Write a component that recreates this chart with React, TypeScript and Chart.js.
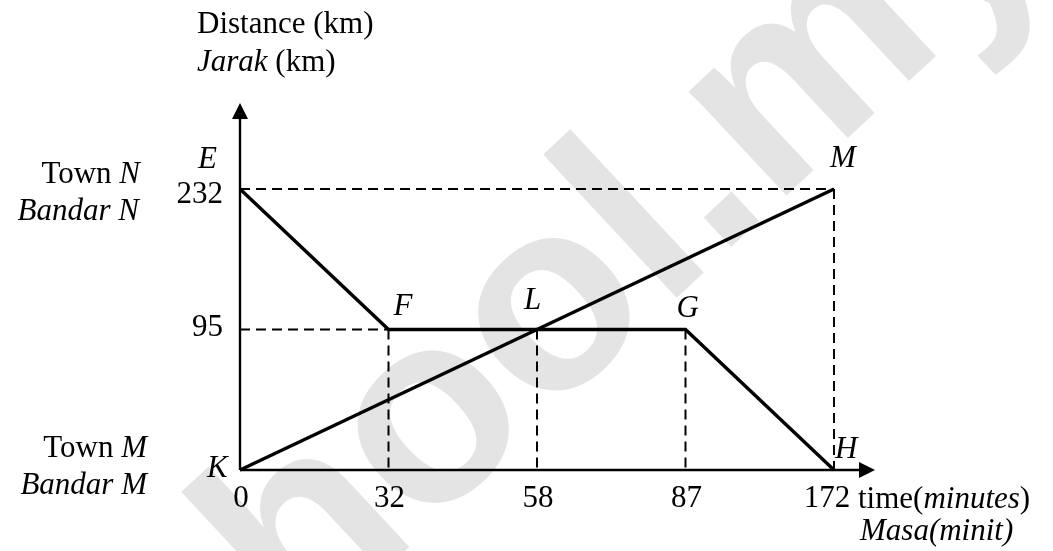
import React, { useEffect, useRef } from 'react';
import { Chart, registerables } from 'chart.js';

Chart.register(...registerables);

// ---- data ----
const timeLabels = ['0', '32', '58', '87', '172']; // minutes
const distanceLabels = ['0', '95', '232']; // km

// Vehicle leaving Town N: E -> F -> G -> H
const journeyNTime = [0, 32, 87, 172];
const journeyNDist = [232, 95, 95, 0];
// Vehicle leaving Town M: K -> M
const journeyMTime = [0, 172];
const journeyMDist = [0, 232];

// dashed guide lines
const hGuideDist = [232, 95];
const hGuideEndTime = [172, 32];
const vGuideTime = [32, 58, 87, 172];
const vGuideTopDist = [95, 95, 95, 232];

// named points
const pointNames = ['E', 'F', 'L', 'G', 'M', 'H', 'K'];
const pointTimes = [0, 32, 58, 87, 172, 172, 0];
const pointDists = [232, 95, 95, 95, 232, 0, 0];

const yTickLabels = ['232', '95'];
const xTickLabels = timeLabels;

// ---- styling ----
const SERIF = '"Liberation Serif", "Times New Roman", serif';
const FS = 31;
const labelOffset: Record<string, [number, number]> = {
  E: [-42, -21],
  F: [5, -15],
  L: [-13, -21],
  G: [-9, -13],
  M: [-4, -22],
  H: [1, -12],
  K: [-33, 7],
};
const yTickBaseline: Record<string, number> = { '232': 14, '95': 6 };

type Seg = [string, boolean];

function rich(ctx: CanvasRenderingContext2D, segs: Seg[], x: number, y: number, align: 'left' | 'right' | 'center') {
  const fonts = segs.map(([, it]) => `${it ? 'italic ' : ''}${FS}px ${SERIF}`);
  const widths = segs.map(([t], i) => {
    ctx.font = fonts[i];
    return ctx.measureText(t).width;
  });
  const total = widths.reduce((a, b) => a + b, 0);
  let cx = align === 'left' ? x : align === 'right' ? x - total : x - total / 2;
  ctx.textAlign = 'left';
  ctx.textBaseline = 'alphabetic';
  segs.forEach(([t], i) => {
    ctx.font = fonts[i];
    ctx.fillText(t, cx, y);
    cx += widths[i];
  });
}

const pair = (t: number[], d: number[]) => t.map((v, i) => ({ x: String(v), y: String(d[i]) }));

const watermarkPlugin = {
  id: 'watermark',
  beforeDraw(chart: any) {
    const ctx = chart.ctx as CanvasRenderingContext2D;
    ctx.save();
    ctx.fillStyle = 'white';
    ctx.fillRect(0, 0, chart.width, chart.height);
    ctx.translate(301, 648);
    ctx.rotate((-43 * Math.PI) / 180);
    ctx.font = 'bold 270px "Liberation Sans", Arial, sans-serif';
    ctx.fillStyle = 'rgb(228,228,228)';
    ctx.textAlign = 'left';
    ctx.textBaseline = 'alphabetic';
    ctx.fillText('hool.my', 0, 0);
    ctx.restore();
  },
};

const axesPlugin = {
  id: 'axesArrows',
  beforeDatasetsDraw(chart: any) {
    const ctx = chart.ctx as CanvasRenderingContext2D;
    const xs = chart.scales.x;
    const ys = chart.scales.y;
    const ox = xs.getPixelForValue('0');
    const oy = ys.getPixelForValue('0');
    const xEnd = xs.getPixelForValue('172');
    const yEnd = ys.getPixelForValue('232');
    const yTip = yEnd - 86;
    const xTip = xEnd + 41;
    ctx.save();
    ctx.strokeStyle = '#000';
    ctx.fillStyle = '#000';
    ctx.lineWidth = 2.4;
    ctx.beginPath();
    ctx.moveTo(ox, oy);
    ctx.lineTo(ox, yTip + 10);
    ctx.moveTo(ox, oy);
    ctx.lineTo(xTip - 10, oy);
    ctx.stroke();
    // arrow heads
    ctx.beginPath();
    ctx.moveTo(ox, yTip);
    ctx.lineTo(ox - 8, yTip + 16);
    ctx.lineTo(ox + 8, yTip + 16);
    ctx.closePath();
    ctx.fill();
    ctx.beginPath();
    ctx.moveTo(xTip, oy);
    ctx.lineTo(xTip - 16, oy - 8);
    ctx.lineTo(xTip - 16, oy + 8);
    ctx.closePath();
    ctx.fill();
    ctx.restore();
  },
  afterDraw(chart: any) {
    const ctx = chart.ctx as CanvasRenderingContext2D;
    const xs = chart.scales.x;
    const ys = chart.scales.y;
    const ox = xs.getPixelForValue('0');
    const oy = ys.getPixelForValue('0');
    const yTop = ys.getPixelForValue('232');
    ctx.save();
    ctx.fillStyle = '#000';
    // axis titles
    rich(ctx, [['Distance (km)', false]], ox - 43, 33, 'left');
    rich(ctx, [['Jarak', true], [' (km)', false]], ox - 43, 71, 'left');
    rich(ctx, [['Town ', false], ['N', true]], ox - 100, yTop - 6, 'right');
    rich(ctx, [['Bandar N', true]], ox - 101, yTop + 31, 'right');
    rich(ctx, [['Town ', false], ['M', true]], ox - 93, oy - 13, 'right');
    rich(ctx, [['Bandar M', true]], ox - 93, oy + 24, 'right');
    // y tick labels
    yTickLabels.forEach((lab) => {
      const y = ys.getPixelForValue(lab);
      rich(ctx, [[lab, false]], ox - 17, y + yTickBaseline[lab], 'right');
    });
    // x tick labels
    xTickLabels.forEach((lab, i) => {
      const x = xs.getPixelForValue(lab);
      const shift = i === xTickLabels.length - 1 ? -7 : 1;
      rich(ctx, [[lab, false]], x + shift, oy + 37, 'center');
    });
    const xEnd = xs.getPixelForValue('172');
    rich(ctx, [['time(', false], ['minutes', true], [')', false]], xEnd + 24, oy + 38, 'left');
    rich(ctx, [['Masa(minit)', true]], xEnd + 26, oy + 70, 'left');
    // point names
    pointNames.forEach((n, i) => {
      const x = xs.getPixelForValue(String(pointTimes[i]));
      const y = ys.getPixelForValue(String(pointDists[i]));
      const [dx, dy] = labelOffset[n];
      rich(ctx, [[n, true]], x + dx, y + dy, 'left');
    });
    ctx.restore();
  },
};

const solid = (data: any[]) => ({
  data,
  borderColor: '#000',
  borderWidth: 3.4,
  pointRadius: 0,
  tension: 0,
  fill: false,
  clip: false as const,
});
const dashed = (data: any[]) => ({
  data,
  borderColor: '#000',
  borderWidth: 2,
  borderDash: [10, 6],
  pointRadius: 0,
  tension: 0,
  fill: false,
  clip: false as const,
});

export default function App() {
  const ref = useRef<HTMLCanvasElement | null>(null);
  useEffect(() => {
    if (!ref.current) return;
    const datasets: any[] = [
      solid(pair(journeyNTime, journeyNDist)),
      solid(pair(journeyMTime, journeyMDist)),
    ];
    hGuideDist.forEach((d, i) => {
      datasets.push(dashed([{ x: '0', y: String(d) }, { x: String(hGuideEndTime[i]), y: String(d) }]));
    });
    vGuideTime.forEach((t, i) => {
      datasets.push(dashed([{ x: String(t), y: String(vGuideTopDist[i]) }, { x: String(t), y: '0' }]));
    });
    const chart = new Chart(ref.current, {
      type: 'line',
      data: { labels: timeLabels, datasets },
      options: {
        animation: false,
        responsive: false,
        events: [],
        layout: { padding: { left: 240, right: 219, top: 189, bottom: 81 } },
        plugins: { legend: { display: false }, tooltip: { enabled: false } },
        scales: {
          x: { type: 'category', display: false, offset: false },
          y: { type: 'category', labels: distanceLabels, reverse: true, display: false, offset: false },
        },
      },
      plugins: [watermarkPlugin, axesPlugin],
    });
    return () => chart.destroy();
  }, []);
  return (
    <div style={{ position: 'fixed', left: 0, top: 0, width: 1053, height: 551, background: '#fff' }}>
      <canvas ref={ref} width={1053} height={551} style={{ display: 'block' }} />
    </div>
  );
}
